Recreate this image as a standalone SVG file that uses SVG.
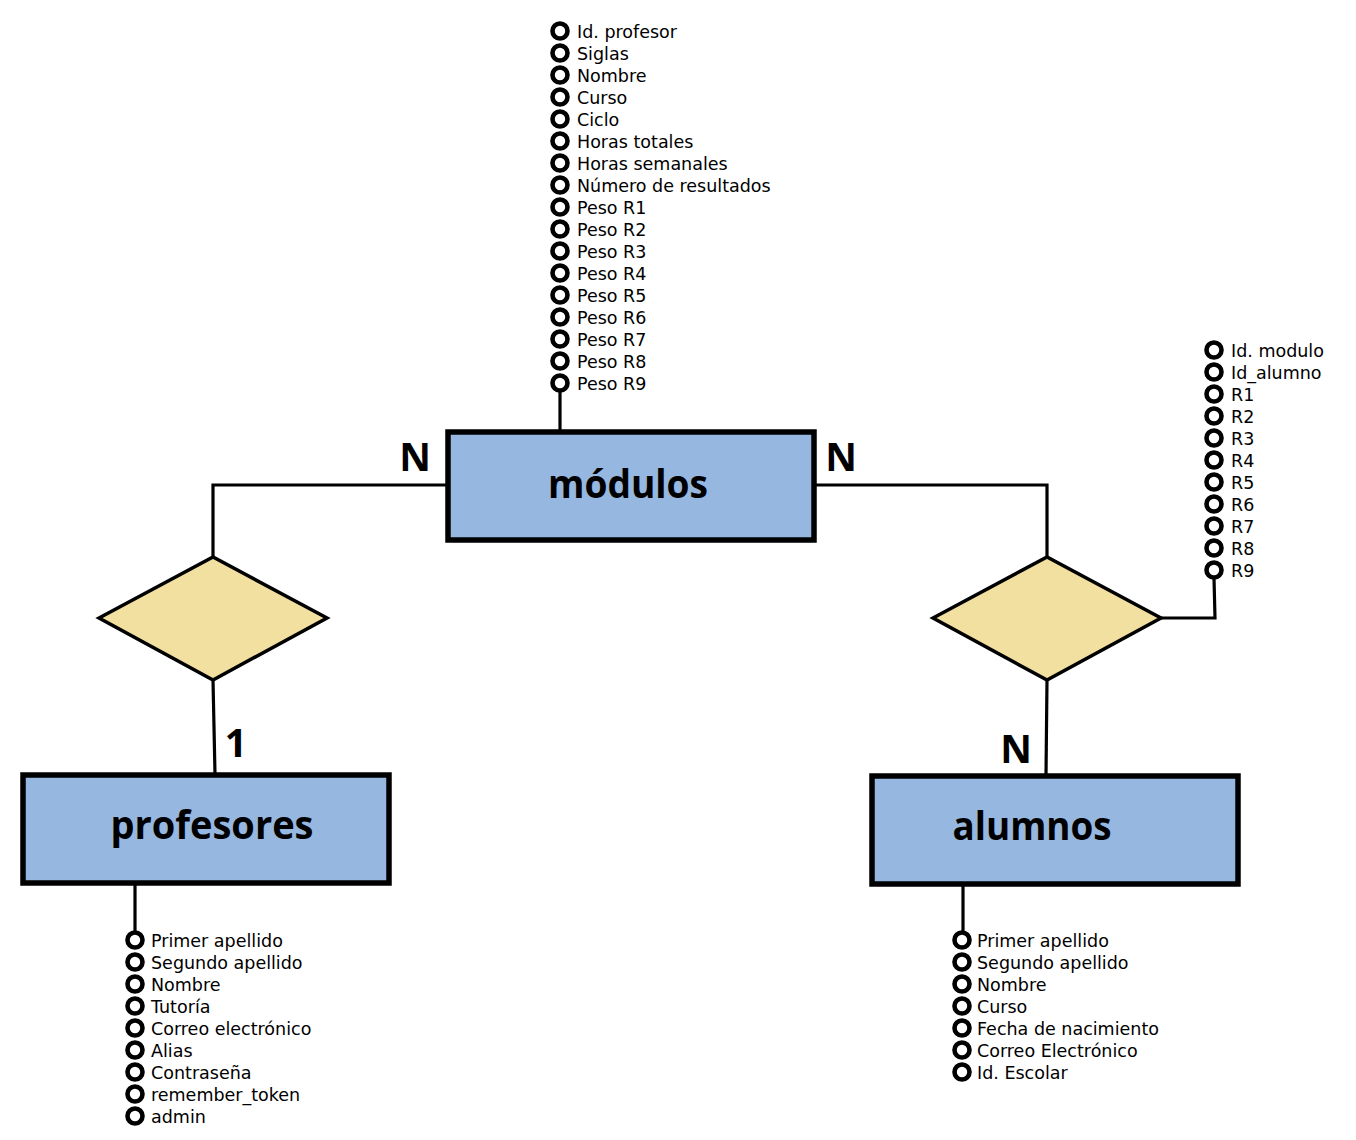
<svg xmlns="http://www.w3.org/2000/svg" width="1356" height="1140" viewBox="0 0 1356 1140">
<style>
.ent{fill:#96b7e0;stroke:#000;stroke-width:5.5}
.rel{fill:#f2e0a0;stroke:#000;stroke-width:3.5;stroke-linejoin:miter}
.con{fill:none;stroke:#000;stroke-width:3.2}
.att{fill:#fff;stroke:#000;stroke-width:4.6}
.etxt{font-family:"Open Sans","DejaVu Sans",sans-serif;font-weight:bold;font-size:40px;fill:#000}
.card{font-family:"Open Sans","DejaVu Sans",sans-serif;font-weight:bold;font-size:39px;fill:#000}
.atxt{font-family:"DejaVu Sans","Liberation Sans",sans-serif;font-size:17.5px;fill:#000}
</style>
<rect width="1356" height="1140" fill="#fff"/>
<g id="connectors">
<polyline class="con" points="447,485 213,485 213,557"/>
<polyline class="con" points="815,485 1047,485 1047,557"/>
<line class="con" x1="213" y1="680" x2="215" y2="774"/>
<line class="con" x1="1047" y1="680" x2="1046" y2="775"/>
<polyline class="con" points="1161,618 1215,618 1214,578"/>
<line class="con" x1="560" y1="390" x2="560" y2="431"/>
<line class="con" x1="135" y1="885" x2="135" y2="932"/>
<line class="con" x1="963" y1="886" x2="963" y2="932"/>
<text class="card" x="415" y="471" text-anchor="middle">N</text>
<text class="card" x="841" y="471" text-anchor="middle">N</text>
<text class="card" x="236" y="757" text-anchor="middle">1</text>
<text class="card" x="1016" y="763" text-anchor="middle">N</text>
</g>
<g id="modulos">
<rect class="ent" x="448" y="432" width="366" height="108"/>
<text class="etxt" x="628" y="498" text-anchor="middle" textLength="160" lengthAdjust="spacingAndGlyphs">módulos</text>
</g>
<g id="profesores">
<rect class="ent" x="23" y="775" width="366" height="108"/>
<text class="etxt" x="212" y="839" text-anchor="middle" textLength="203" lengthAdjust="spacingAndGlyphs">profesores</text>
</g>
<g id="alumnos">
<rect class="ent" x="872" y="776" width="366" height="108"/>
<text class="etxt" x="1032" y="840" text-anchor="middle" textLength="159" lengthAdjust="spacingAndGlyphs">alumnos</text>
</g>
<g id="rel-profesores-modulos">
<polygon class="rel" points="99,618 213,557 327,618 213,680"/>
</g>
<g id="rel-alumnos-modulos">
<polygon class="rel" points="933,618 1047,557 1161,618 1047,680"/>
</g>
<g id="attrs-modulos">
<circle class="att" cx="560" cy="31" r="7.5"/><text class="atxt" x="577" y="38">Id. profesor</text>
<circle class="att" cx="560" cy="53" r="7.5"/><text class="atxt" x="577" y="60">Siglas</text>
<circle class="att" cx="560" cy="75" r="7.5"/><text class="atxt" x="577" y="82">Nombre</text>
<circle class="att" cx="560" cy="97" r="7.5"/><text class="atxt" x="577" y="104">Curso</text>
<circle class="att" cx="560" cy="119" r="7.5"/><text class="atxt" x="577" y="126">Ciclo</text>
<circle class="att" cx="560" cy="141" r="7.5"/><text class="atxt" x="577" y="148">Horas totales</text>
<circle class="att" cx="560" cy="163" r="7.5"/><text class="atxt" x="577" y="170">Horas semanales</text>
<circle class="att" cx="560" cy="185" r="7.5"/><text class="atxt" x="577" y="192">Número de resultados</text>
<circle class="att" cx="560" cy="207" r="7.5"/><text class="atxt" x="577" y="214">Peso R1</text>
<circle class="att" cx="560" cy="229" r="7.5"/><text class="atxt" x="577" y="236">Peso R2</text>
<circle class="att" cx="560" cy="251" r="7.5"/><text class="atxt" x="577" y="258">Peso R3</text>
<circle class="att" cx="560" cy="273" r="7.5"/><text class="atxt" x="577" y="280">Peso R4</text>
<circle class="att" cx="560" cy="295" r="7.5"/><text class="atxt" x="577" y="302">Peso R5</text>
<circle class="att" cx="560" cy="317" r="7.5"/><text class="atxt" x="577" y="324">Peso R6</text>
<circle class="att" cx="560" cy="339" r="7.5"/><text class="atxt" x="577" y="346">Peso R7</text>
<circle class="att" cx="560" cy="361" r="7.5"/><text class="atxt" x="577" y="368">Peso R8</text>
<circle class="att" cx="560" cy="383" r="7.5"/><text class="atxt" x="577" y="390">Peso R9</text>
</g>
<g id="attrs-rel-alumnos">
<circle class="att" cx="1214" cy="350" r="7.5"/><text class="atxt" x="1231" y="357">Id. modulo</text>
<circle class="att" cx="1214" cy="372" r="7.5"/><text class="atxt" x="1231" y="379">Id_alumno</text>
<circle class="att" cx="1214" cy="394" r="7.5"/><text class="atxt" x="1231" y="401">R1</text>
<circle class="att" cx="1214" cy="416" r="7.5"/><text class="atxt" x="1231" y="423">R2</text>
<circle class="att" cx="1214" cy="438" r="7.5"/><text class="atxt" x="1231" y="445">R3</text>
<circle class="att" cx="1214" cy="460" r="7.5"/><text class="atxt" x="1231" y="467">R4</text>
<circle class="att" cx="1214" cy="482" r="7.5"/><text class="atxt" x="1231" y="489">R5</text>
<circle class="att" cx="1214" cy="504" r="7.5"/><text class="atxt" x="1231" y="511">R6</text>
<circle class="att" cx="1214" cy="526" r="7.5"/><text class="atxt" x="1231" y="533">R7</text>
<circle class="att" cx="1214" cy="548" r="7.5"/><text class="atxt" x="1231" y="555">R8</text>
<circle class="att" cx="1214" cy="570" r="7.5"/><text class="atxt" x="1231" y="577">R9</text>
</g>
<g id="attrs-profesores">
<circle class="att" cx="135" cy="940" r="7.5"/><text class="atxt" x="151" y="947">Primer apellido</text>
<circle class="att" cx="135" cy="962" r="7.5"/><text class="atxt" x="151" y="969">Segundo apellido</text>
<circle class="att" cx="135" cy="984" r="7.5"/><text class="atxt" x="151" y="991">Nombre</text>
<circle class="att" cx="135" cy="1006" r="7.5"/><text class="atxt" x="151" y="1013">Tutoría</text>
<circle class="att" cx="135" cy="1028" r="7.5"/><text class="atxt" x="151" y="1035">Correo electrónico</text>
<circle class="att" cx="135" cy="1050" r="7.5"/><text class="atxt" x="151" y="1057">Alias</text>
<circle class="att" cx="135" cy="1072" r="7.5"/><text class="atxt" x="151" y="1079">Contraseña</text>
<circle class="att" cx="135" cy="1094" r="7.5"/><text class="atxt" x="151" y="1101">remember_token</text>
<circle class="att" cx="135" cy="1116" r="7.5"/><text class="atxt" x="151" y="1123">admin</text>
</g>
<g id="attrs-alumnos">
<circle class="att" cx="962" cy="940" r="7.5"/><text class="atxt" x="977" y="947">Primer apellido</text>
<circle class="att" cx="962" cy="962" r="7.5"/><text class="atxt" x="977" y="969">Segundo apellido</text>
<circle class="att" cx="962" cy="984" r="7.5"/><text class="atxt" x="977" y="991">Nombre</text>
<circle class="att" cx="962" cy="1006" r="7.5"/><text class="atxt" x="977" y="1013">Curso</text>
<circle class="att" cx="962" cy="1028" r="7.5"/><text class="atxt" x="977" y="1035">Fecha de nacimiento</text>
<circle class="att" cx="962" cy="1050" r="7.5"/><text class="atxt" x="977" y="1057">Correo Electrónico</text>
<circle class="att" cx="962" cy="1072" r="7.5"/><text class="atxt" x="977" y="1079">Id. Escolar</text>
</g>
</svg>
